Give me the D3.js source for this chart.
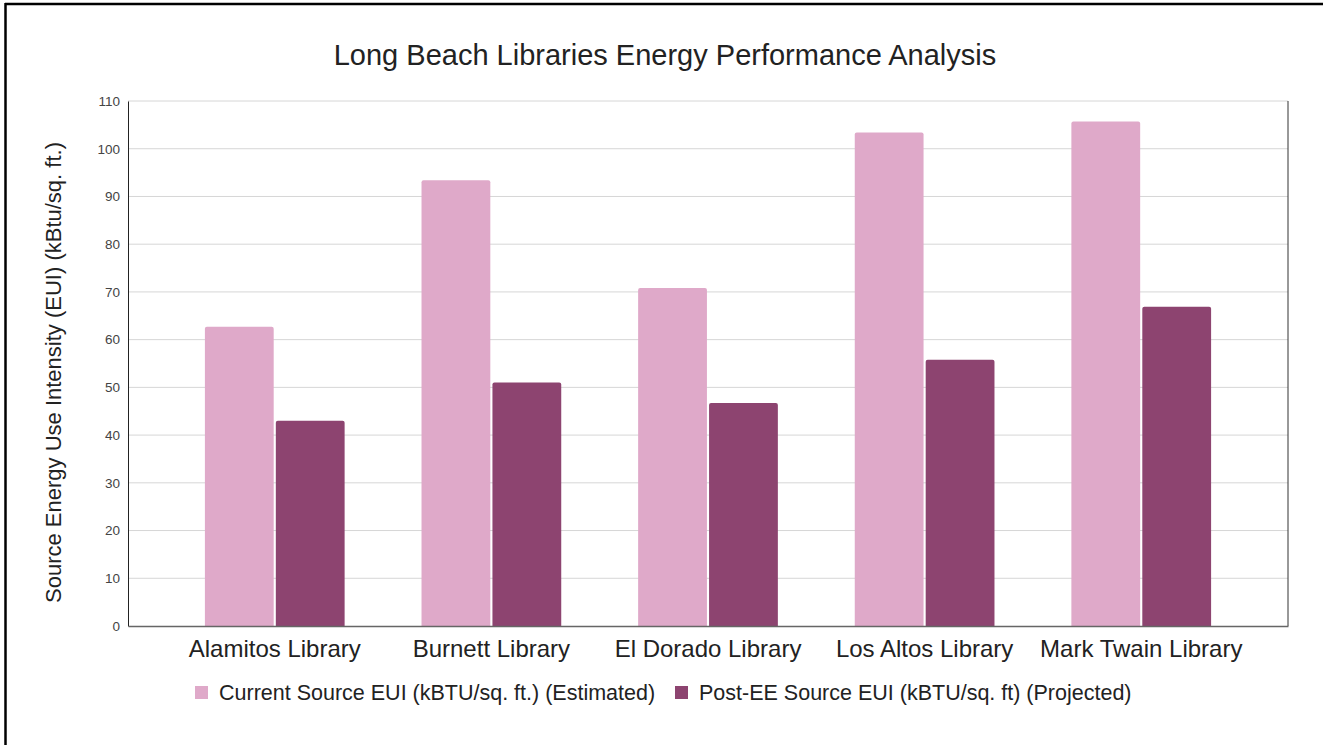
<!DOCTYPE html>
<html>
<head>
<meta charset="utf-8">
<script src="https://cdn.jsdelivr.net/npm/d3@7"></script>
<style>
  html, body { margin: 0; padding: 0; background: #fff; }
  svg { display: block; font-family: "Liberation Sans", Arial, sans-serif; }
</style>
</head>
<body>
<div id="chart"></div>
<script>
const libraries = ['Alamitos Library', 'Burnett Library', 'El Dorado Library', 'Los Altos Library', 'Mark Twain Library'];
const currentEUI = [62.7, 93.4, 70.8, 103.4, 105.7];
const postEEEUI = [43.0, 51.0, 46.7, 55.8, 66.9];
const seriesNames = ['Current Source EUI (kBTU/sq. ft.) (Estimated)', 'Post-EE Source EUI (kBTU/sq. ft) (Projected)'];
const yTicks = [0, 10, 20, 30, 40, 50, 60, 70, 80, 90, 100, 110];

const W = 1323, H = 745;
const margin = {top: 101, right: 35, bottom: 119, left: 128};
const width = W - margin.left - margin.right;
const height = H - margin.top - margin.bottom;
const colors = ['#dfa9c9', '#8d4470'];

const data = libraries.map((name, i) => ({name: name, values: [currentEUI[i], postEEEUI[i]]}));

const svg = d3.select('#chart').append('svg')
  .attr('width', W)
  .attr('height', H);

// outer frame (only top/left edges visible in source)
svg.append('line').attr('x1', 5).attr('x2', W).attr('y1', 4).attr('y2', 4)
  .attr('stroke', '#000').attr('stroke-width', 2.5);
svg.append('line').attr('x1', 5.5).attr('x2', 5.5).attr('y1', 3).attr('y2', H)
  .attr('stroke', '#000').attr('stroke-width', 2.5);

svg.append('text')
  .attr('x', 665).attr('y', 65)
  .attr('text-anchor', 'middle')
  .attr('font-size', 29)
  .attr('fill', '#222')
  .text('Long Beach Libraries Energy Performance Analysis');

const chart = svg.append('g')
  .attr('transform', `translate(${margin.left},${margin.top})`);

const x0 = d3.scaleBand()
  .domain(libraries)
  .range([0, width])
  .paddingInner(0.355)
  .paddingOuter(0.355);

const x1 = d3.scaleBand()
  .domain([0, 1])
  .range([0, x0.bandwidth()])
  .paddingInner(0.03);

const y = d3.scaleLinear()
  .domain([0, 110])
  .range([height, 0]);

// gridlines
chart.append('g')
  .selectAll('line')
  .data(yTicks.filter(d => d > 0))
  .enter().append('line')
  .attr('x1', 0).attr('x2', width)
  .attr('y1', d => y(d)).attr('y2', d => y(d))
  .attr('stroke', '#d6d6d6')
  .attr('stroke-width', 1);

// y axis
const yAxis = chart.append('g')
  .call(d3.axisLeft(y).tickValues(yTicks).tickSize(0).tickPadding(8));
yAxis.select('.domain').attr('stroke', '#222');
yAxis.selectAll('text').attr('font-size', 13.5).attr('fill', '#444')
  .attr('font-family', '"Liberation Sans", Arial, sans-serif');

// right edge line
chart.append('line')
  .attr('x1', width).attr('x2', width).attr('y1', 0).attr('y2', height)
  .attr('stroke', '#333').attr('stroke-width', 1);

// bars
const group = chart.append('g')
  .selectAll('g')
  .data(data)
  .enter().append('g')
  .attr('transform', d => `translate(${x0(d.name)},0)`);

group.selectAll('path')
  .data(d => d.values.map((v, k) => ({k: k, v: v})))
  .enter().append('path')
  .attr('fill', d => colors[d.k])
  .attr('d', d => {
    const bx = x1(d.k), bw = x1.bandwidth(), by = y(d.v), bh = height - y(d.v), r = 2;
    return `M${bx},${by + bh}V${by + r}Q${bx},${by} ${bx + r},${by}H${bx + bw - r}Q${bx + bw},${by} ${bx + bw},${by + r}V${by + bh}Z`;
  });

// x axis
const xAxis = chart.append('g')
  .attr('transform', `translate(0,${height})`)
  .call(d3.axisBottom(x0).tickSize(0).tickPadding(14));
xAxis.select('.domain').attr('stroke', '#666').attr('stroke-width', 1.5);
xAxis.selectAll('text').attr('font-size', 24).attr('fill', '#222')
  .attr('font-family', '"Liberation Sans", Arial, sans-serif');

// y axis title
svg.append('text')
  .attr('transform', `translate(61,${margin.top + height / 2 + 9}) rotate(-90)`)
  .attr('text-anchor', 'middle')
  .attr('font-size', 22)
  .attr('fill', '#222')
  .text('Source Energy Use Intensity (EUI) (kBtu/sq. ft.)');

// legend
const legendX = [195, 675];
const legend = svg.append('g')
  .selectAll('g')
  .data(seriesNames)
  .enter().append('g')
  .attr('transform', (d, i) => `translate(${legendX[i]},686)`);

legend.append('rect')
  .attr('width', 13).attr('height', 13)
  .attr('fill', (d, i) => colors[i]);

legend.append('text')
  .attr('x', 24).attr('y', 14)
  .attr('font-size', 21.5)
  .attr('fill', '#222')
  .text(d => d);
</script>
</body>
</html>
